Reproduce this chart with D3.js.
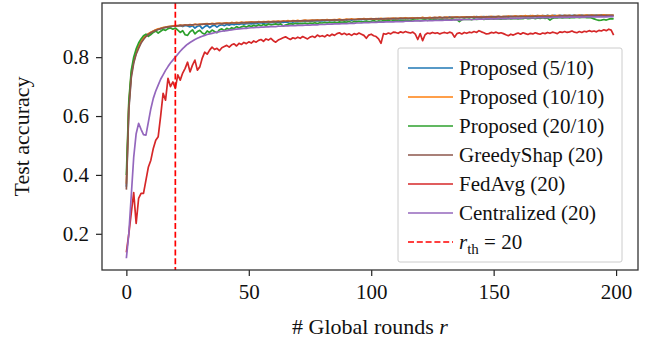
<!DOCTYPE html>
<html>
<head>
<meta charset="utf-8">
<script src="https://cdn.jsdelivr.net/npm/d3@7"></script>
<style>
  body { margin: 0; background: #fff; }
  svg { display: block; }
</style>
</head>
<body>
<svg id="chart" width="649" height="349"></svg>
<script>
// rounds 0..199
let rounds = d3.range(200)

let greedyShap = [
  0.350,0.620,0.730,0.780,0.810,0.830,0.848,0.860,0.870,0.877,
  0.883,0.887,0.891,0.894,0.897,0.899,0.901,0.903,0.904,0.905,
  0.906,0.907,0.908,0.908,0.909,0.909,0.910,0.910,0.911,0.911,
  0.911,0.912,0.912,0.912,0.913,0.913,0.913,0.914,0.914,0.914,
  0.915,0.915,0.915,0.916,0.916,0.916,0.916,0.917,0.917,0.917,
  0.918,0.918,0.918,0.919,0.919,0.919,0.919,0.920,0.920,0.920,
  0.921,0.921,0.921,0.921,0.922,0.922,0.922,0.922,0.923,0.923,
  0.923,0.923,0.924,0.924,0.924,0.924,0.925,0.925,0.925,0.925,
  0.926,0.926,0.926,0.926,0.926,0.927,0.927,0.927,0.927,0.927,
  0.928,0.928,0.928,0.928,0.928,0.929,0.929,0.929,0.929,0.929,
  0.930,0.930,0.930,0.930,0.930,0.930,0.931,0.931,0.931,0.931,
  0.931,0.931,0.932,0.932,0.932,0.932,0.932,0.932,0.933,0.933,
  0.933,0.933,0.933,0.933,0.933,0.934,0.934,0.934,0.934,0.934,
  0.934,0.934,0.935,0.935,0.935,0.935,0.935,0.935,0.935,0.936,
  0.936,0.936,0.936,0.936,0.936,0.936,0.936,0.937,0.937,0.937,
  0.937,0.937,0.937,0.937,0.937,0.937,0.938,0.938,0.938,0.938,
  0.938,0.938,0.938,0.938,0.938,0.938,0.939,0.939,0.939,0.939,
  0.939,0.939,0.939,0.939,0.939,0.939,0.939,0.940,0.940,0.940,
  0.940,0.940,0.940,0.940,0.940,0.940,0.940,0.940,0.940,0.941,
  0.941,0.941,0.941,0.941,0.941,0.941,0.941,0.941,0.941,0.941
]

let proposed10 = [
  0.370,0.640,0.745,0.790,0.818,0.838,0.853,0.866,0.874,0.880,
  0.885,0.889,0.893,0.896,0.898,0.901,0.902,0.904,0.905,0.906,
  0.907,0.906,0.909,0.907,0.910,0.908,0.911,0.909,0.912,0.910,
  0.912,0.911,0.913,0.914,0.912,0.915,0.913,0.915,0.916,0.914,
  0.916,0.917,0.915,0.918,0.916,0.918,0.917,0.919,0.917,0.919,
  0.918,0.920,0.919,0.918,0.921,0.919,0.921,0.920,0.922,0.920,
  0.922,0.921,0.923,0.921,0.923,0.922,0.924,0.922,0.924,0.923,
  0.925,0.923,0.924,0.926,0.924,0.925,0.926,0.925,0.927,0.925,
  0.927,0.926,0.928,0.926,0.927,0.928,0.927,0.929,0.927,0.928,
  0.929,0.928,0.930,0.928,0.929,0.930,0.929,0.931,0.929,0.930,
  0.931,0.929,0.931,0.930,0.932,0.930,0.931,0.932,0.931,0.933,
  0.931,0.932,0.933,0.932,0.934,0.932,0.933,0.934,0.932,0.934,
  0.933,0.935,0.933,0.934,0.935,0.933,0.935,0.934,0.936,0.934,
  0.935,0.936,0.934,0.936,0.935,0.937,0.935,0.936,0.937,0.935,
  0.937,0.936,0.938,0.936,0.937,0.938,0.936,0.938,0.937,0.939,
  0.937,0.938,0.939,0.937,0.939,0.938,0.940,0.938,0.939,0.940,
  0.938,0.940,0.939,0.941,0.939,0.940,0.941,0.939,0.941,0.940,
  0.941,0.939,0.941,0.940,0.942,0.940,0.941,0.942,0.940,0.942,
  0.941,0.942,0.940,0.942,0.941,0.943,0.941,0.942,0.943,0.941,
  0.943,0.942,0.941,0.943,0.942,0.944,0.942,0.943,0.942,0.943
]

let proposed5 = [
  0.360,0.630,0.740,0.785,0.815,0.835,0.851,0.863,0.872,0.879,
  0.884,0.888,0.892,0.895,0.897,0.900,0.901,0.903,0.904,0.905,
  0.906,0.905,0.907,0.904,0.908,0.906,0.903,0.907,0.899,0.905,
  0.907,0.897,0.904,0.908,0.900,0.906,0.909,0.902,0.908,0.910,
  0.907,0.911,0.909,0.912,0.910,0.913,0.911,0.914,0.912,0.914,
  0.915,0.913,0.915,0.914,0.916,0.917,0.915,0.917,0.916,0.918,
  0.917,0.919,0.917,0.919,0.918,0.920,0.919,0.921,0.919,0.921,
  0.920,0.922,0.921,0.923,0.921,0.923,0.922,0.924,0.923,0.924,
  0.923,0.925,0.924,0.926,0.924,0.926,0.925,0.927,0.925,0.927,
  0.926,0.928,0.926,0.928,0.927,0.929,0.927,0.929,0.928,0.930,
  0.928,0.930,0.929,0.931,0.929,0.931,0.930,0.928,0.931,0.930,
  0.932,0.930,0.932,0.931,0.933,0.931,0.932,0.933,0.931,0.933,
  0.932,0.934,0.932,0.934,0.933,0.932,0.934,0.933,0.935,0.933,
  0.935,0.934,0.936,0.934,0.935,0.936,0.934,0.936,0.935,0.937,
  0.935,0.937,0.936,0.938,0.936,0.937,0.938,0.936,0.938,0.937,
  0.938,0.937,0.939,0.937,0.938,0.939,0.937,0.939,0.938,0.940,
  0.938,0.940,0.939,0.940,0.939,0.941,0.939,0.940,0.941,0.939,
  0.941,0.940,0.942,0.940,0.941,0.942,0.940,0.942,0.941,0.942,
  0.941,0.942,0.941,0.943,0.941,0.942,0.943,0.941,0.943,0.942,
  0.943,0.942,0.943,0.942,0.944,0.942,0.943,0.942,0.943,0.942
]

let proposed20 = [
  0.400,0.650,0.755,0.800,0.828,0.848,0.862,0.873,0.878,0.871,
  0.877,0.884,0.889,0.882,0.888,0.894,0.891,0.897,0.899,0.895,
  0.899,0.892,0.884,0.890,0.876,0.874,0.886,0.893,0.879,0.887,
  0.891,0.882,0.878,0.889,0.884,0.892,0.887,0.883,0.893,0.896,
  0.890,0.898,0.894,0.900,0.897,0.904,0.899,0.903,0.906,0.902,
  0.907,0.904,0.908,0.905,0.910,0.907,0.911,0.908,0.912,0.910,
  0.911,0.913,0.910,0.913,0.906,0.909,0.912,0.914,0.912,0.915,
  0.913,0.915,0.914,0.916,0.913,0.916,0.915,0.917,0.914,0.917,
  0.916,0.918,0.916,0.919,0.917,0.919,0.917,0.920,0.918,0.920,
  0.919,0.921,0.918,0.921,0.920,0.922,0.920,0.921,0.923,0.921,
  0.922,0.924,0.921,0.923,0.922,0.924,0.923,0.925,0.922,0.924,
  0.925,0.923,0.925,0.924,0.926,0.924,0.925,0.927,0.925,0.926,
  0.924,0.926,0.927,0.925,0.927,0.926,0.928,0.926,0.927,0.928,
  0.926,0.928,0.927,0.929,0.927,0.928,0.921,0.927,0.929,0.928,
  0.929,0.927,0.930,0.928,0.929,0.930,0.928,0.930,0.929,0.931,
  0.929,0.931,0.930,0.929,0.931,0.930,0.932,0.930,0.931,0.932,
  0.930,0.932,0.931,0.933,0.931,0.932,0.933,0.931,0.933,0.932,
  0.934,0.932,0.933,0.926,0.932,0.934,0.933,0.935,0.933,0.934,
  0.935,0.933,0.935,0.934,0.936,0.934,0.935,0.936,0.934,0.935,
  0.933,0.930,0.927,0.925,0.926,0.928,0.926,0.929,0.931,0.930
]

let fedAvg = [
  0.137,0.200,0.270,0.340,0.235,0.320,0.337,0.337,0.382,0.427,
  0.450,0.490,0.518,0.530,0.600,0.677,0.654,0.728,0.700,0.716,
  0.694,0.740,0.722,0.746,0.762,0.783,0.750,0.773,0.790,0.756,
  0.767,0.797,0.817,0.810,0.824,0.834,0.826,0.830,0.822,0.832,
  0.836,0.840,0.834,0.842,0.845,0.838,0.847,0.843,0.850,0.846,
  0.852,0.848,0.855,0.851,0.857,0.860,0.854,0.862,0.858,0.864,
  0.856,0.851,0.858,0.862,0.866,0.869,0.864,0.860,0.866,0.863,
  0.868,0.864,0.870,0.866,0.862,0.868,0.871,0.867,0.875,0.870,
  0.873,0.869,0.876,0.872,0.878,0.874,0.880,0.883,0.877,0.881,
  0.876,0.879,0.874,0.880,0.877,0.882,0.878,0.874,0.864,0.875,
  0.878,0.873,0.870,0.862,0.847,0.880,0.878,0.882,0.879,0.885,
  0.884,0.881,0.886,0.883,0.887,0.884,0.882,0.885,0.878,0.860,
  0.880,0.856,0.876,0.882,0.880,0.884,0.881,0.883,0.879,0.882,
  0.884,0.881,0.885,0.882,0.868,0.880,0.883,0.879,0.884,0.881,
  0.885,0.883,0.887,0.884,0.890,0.886,0.883,0.879,0.880,0.884,
  0.882,0.885,0.881,0.883,0.880,0.876,0.873,0.878,0.875,0.879,
  0.882,0.878,0.883,0.880,0.877,0.881,0.879,0.883,0.880,0.878,
  0.882,0.880,0.884,0.881,0.885,0.883,0.880,0.886,0.884,0.887,
  0.884,0.886,0.889,0.885,0.883,0.887,0.884,0.888,0.886,0.890,
  0.887,0.889,0.886,0.891,0.889,0.893,0.890,0.895,0.892,0.875
]

let centralized = [
  0.117,0.200,0.330,0.460,0.540,0.575,0.555,0.537,0.535,0.580,
  0.625,0.660,0.685,0.705,0.725,0.740,0.755,0.768,0.780,0.790,
  0.800,0.810,0.820,0.829,0.837,0.844,0.850,0.855,0.860,0.864,
  0.868,0.871,0.874,0.877,0.879,0.881,0.883,0.885,0.887,0.888,
  0.889,0.890,0.892,0.893,0.894,0.895,0.896,0.897,0.898,0.898,
  0.899,0.900,0.900,0.901,0.901,0.902,0.902,0.903,0.903,0.904,
  0.904,0.904,0.905,0.905,0.906,0.906,0.906,0.907,0.907,0.907,
  0.908,0.908,0.908,0.909,0.909,0.909,0.910,0.910,0.910,0.911,
  0.911,0.911,0.912,0.912,0.912,0.913,0.913,0.913,0.914,0.914,
  0.914,0.915,0.915,0.915,0.916,0.916,0.916,0.917,0.917,0.917,
  0.918,0.918,0.918,0.919,0.919,0.919,0.920,0.920,0.920,0.920,
  0.921,0.921,0.921,0.921,0.922,0.922,0.922,0.922,0.923,0.923,
  0.923,0.923,0.924,0.924,0.924,0.924,0.925,0.925,0.925,0.925,
  0.926,0.926,0.926,0.926,0.927,0.927,0.927,0.927,0.928,0.928,
  0.928,0.928,0.928,0.929,0.929,0.929,0.929,0.930,0.930,0.930,
  0.930,0.930,0.931,0.931,0.931,0.931,0.931,0.932,0.932,0.932,
  0.932,0.932,0.933,0.933,0.933,0.933,0.933,0.933,0.934,0.934,
  0.934,0.934,0.934,0.934,0.935,0.935,0.935,0.935,0.935,0.935,
  0.935,0.936,0.936,0.936,0.936,0.936,0.936,0.936,0.937,0.937,
  0.937,0.937,0.937,0.937,0.937,0.937,0.937,0.938,0.938,0.938
]

let seriesNames  = ['Proposed (5/10)', 'Proposed (10/10)', 'Proposed (20/10)', 'GreedyShap (20)', 'FedAvg (20)', 'Centralized (20)']
let seriesValues = [proposed5, proposed10, proposed20, greedyShap, fedAvg, centralized]
let seriesColors = ['#1f77b4', '#ff7f0e', '#2ca02c', '#8c564b', '#d62728', '#9467bd']

let rTh = 20
let xTicks = [0, 50, 100, 150, 200]
let yTicks = [0.2, 0.4, 0.6, 0.8]

let width = 649
let height = 349
let margin = {top: 3, right: 11, bottom: 79, left: 102}
let serif = 'Liberation Serif'

let svg = d3.select('#chart')

let x = d3.scaleLinear()
  .domain([-9.95, 208.95])
  .range([margin.left, width - margin.right])

let y = d3.scaleLinear()
  .domain([0.077, 0.984])
  .range([height - margin.bottom, margin.top])

svg.append('clipPath')
  .attr('id', 'plotclip')
  .append('rect')
  .attr('x', margin.left)
  .attr('y', margin.top)
  .attr('width', width - margin.left - margin.right)
  .attr('height', height - margin.top - margin.bottom)

let line = d3.line()
  .x((d, i) => x(rounds[i]))
  .y(d => y(d))

let plot = svg.append('g').attr('clip-path', 'url(#plotclip)')

seriesValues.forEach((vals, k) => {
  plot.append('path')
    .datum(vals)
    .attr('fill', 'none')
    .attr('stroke', seriesColors[k])
    .attr('stroke-width', 1.7)
    .attr('stroke-linejoin', 'round')
    .attr('d', line)
})

// threshold round
plot.append('line')
  .attr('x1', x(rTh)).attr('x2', x(rTh))
  .attr('y1', margin.top).attr('y2', height - margin.bottom)
  .attr('stroke', '#ff0000')
  .attr('stroke-width', 1.7)
  .attr('stroke-dasharray', '6,2.8')

// axes
svg.append('g')
  .attr('transform', 'translate(0,' + (height - margin.bottom) + ')')
  .call(d3.axisBottom(x).tickValues(xTicks).tickSize(6).tickPadding(8).tickFormat(d3.format('d')))

svg.append('g')
  .attr('transform', 'translate(' + margin.left + ',0)')
  .call(d3.axisLeft(y).tickValues(yTicks).tickSize(6).tickPadding(7).tickFormat(d3.format('.1f')))

svg.selectAll('.domain').remove()
svg.selectAll('.tick line').attr('stroke', '#222').attr('stroke-width', 1.2)
svg.selectAll('.tick text')
  .attr('fill', '#111')
  .attr('font-family', serif)
  .attr('font-size', 21)

// frame
svg.append('rect')
  .attr('x', margin.left)
  .attr('y', margin.top)
  .attr('width', width - margin.left - margin.right)
  .attr('height', height - margin.top - margin.bottom)
  .attr('fill', 'none')
  .attr('stroke', '#333')
  .attr('stroke-width', 1.3)

// axis labels
svg.append('text')
  .attr('x', (margin.left + width - margin.right) / 2)
  .attr('y', 334)
  .attr('text-anchor', 'middle')
  .attr('font-family', serif)
  .attr('font-size', 22)
  .attr('fill', '#111')
  .text('# Global rounds ')
  .append('tspan')
  .attr('font-style', 'italic')
  .text('r')

svg.append('text')
  .attr('transform', 'translate(29,' + ((margin.top + height - margin.bottom) / 2) + ') rotate(-90)')
  .attr('text-anchor', 'middle')
  .attr('font-family', serif)
  .attr('font-size', 22)
  .attr('fill', '#111')
  .text('Test accuracy')

// legend
let legend = svg.append('g').attr('transform', 'translate(398,48)')

legend.append('rect')
  .attr('width', 224)
  .attr('height', 214)
  .attr('rx', 2)
  .attr('fill', 'rgba(255,255,255,0.85)')
  .attr('stroke', '#cccccc')
  .attr('stroke-width', 1)

let legendItems = seriesNames.map((name, k) => ({name: name, color: seriesColors[k], dash: null}))
legendItems.push({name: null, color: '#ff0000', dash: '6,2.8'})

legendItems.forEach((item, k) => {
  let cy = 20 + k * 29
  legend.append('line')
    .attr('x1', 10).attr('x2', 55)
    .attr('y1', cy).attr('y2', cy)
    .attr('stroke', item.color)
    .attr('stroke-width', 1.7)
    .attr('stroke-dasharray', item.dash)

  let t = legend.append('text')
    .attr('x', 61)
    .attr('y', cy + 7)
    .attr('font-family', serif)
    .attr('font-size', 21)
    .attr('fill', '#111')

  if (item.name) {
    t.text(item.name)
  } else {
    t.append('tspan').attr('font-style', 'italic').text('r')
    t.append('tspan').attr('dy', 5).attr('font-size', 15).text('th')
    t.append('tspan').attr('dy', -5).text(' = 20')
  }
})
</script>
</body>
</html>
